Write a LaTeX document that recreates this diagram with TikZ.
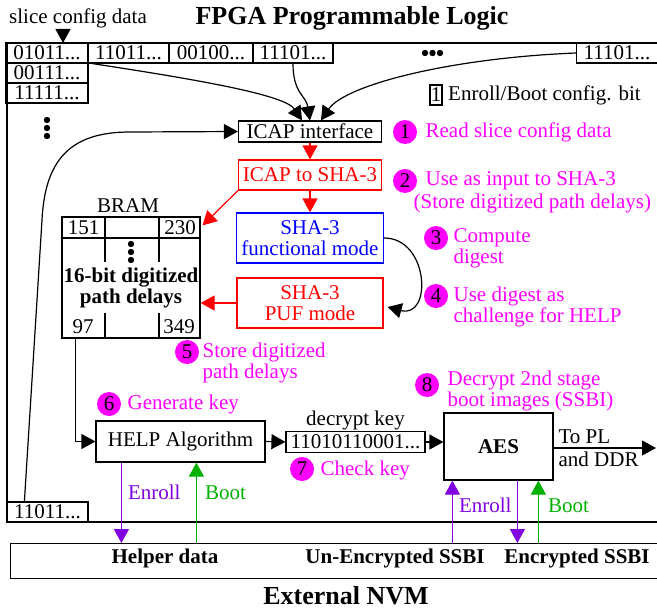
\documentclass[tikz,border=0pt]{standalone}
\usepackage{fontspec}
\setmainfont{Liberation Serif}
\usepackage{xcolor}
\usetikzlibrary{arrows.meta,positioning,calc}

\definecolor{stepmag}{RGB}{255,0,255}
\definecolor{enrollc}{RGB}{128,0,224}
\definecolor{bootc}{RGB}{0,176,0}

\begin{document}
\begin{tikzpicture}[
    x=0.5pt, y=-0.5pt,
    font=\fontsize{10.5}{10.5}\selectfont,
    line width=0.6pt,
    cell/.style={rectangle, draw, inner sep=0pt, minimum height=10pt},
    block/.style={rectangle, draw, inner sep=0pt, align=center},
    bold/.style={font=\fontsize{10.5}{10.5}\selectfont\bfseries, align=center},
    big/.style={font=\fontsize{13}{13}\selectfont\bfseries},
    stepno/.style={circle, fill=stepmag, inner sep=0pt, minimum size=12pt},
    steptxt/.style={text=stepmag, align=left, inner sep=0pt, anchor=west},
    arr/.style={-{Triangle[length=7pt, width=7.5pt]}},
    lab/.style={inner sep=0pt},
]
\useasboundingbox (0,0) rectangle (657,610);

% Titles
\node[big] (title) at (352,18) {FPGA Programmable Logic};
\node (slice) at (78,18) {slice config data};
\node[big] (nvmtitle) at (346,596) {External NVM};

% FPGA frame (runs off to the right)
\draw (700,43) -- (7,43) -- (7,522) -- (700,522);

% Slice config frames
\node[cell, minimum width=41pt] (cfgA) at (47,53) {01011...};
\node[cell, minimum width=40.5pt] (cfgB) at (128.5,53) {11011...};
\node[cell, minimum width=42pt] (cfgC) at (211,53) {00100...};
\node[cell, minimum width=40pt] (cfgD) at (293,53) {11101...};
\node[cell, anchor=west, inner xsep=3.5pt] (cfgE) at (576,53) {11101...};
\node[cell, minimum width=41pt] (cfgF) at (47,73) {00111...};
\node[cell, minimum width=41pt] (cfgG) at (47,93) {11111...};
\node[cell, minimum width=40.5pt] (cfgH) at (47.5,512) {11011...};
\foreach \x in {425,432.5,440} \fill (\x,53) circle (1.6pt);
\foreach \y in {120,128,136} \fill (47,\y) circle (1.6pt);

% Legend
\node[cell, minimum width=6pt] (legbit) at (436,95) {1};
\node[lab, right=2.5pt of legbit] (legtxt) {Enroll/Boot config. bit};

% Center column: ICAP and SHA-3
\node[block, minimum width=71.5pt, minimum height=10.5pt] (icap) at (310,131.5) {ICAP interface};
\node[block, red, minimum width=71.5pt, minimum height=15pt] (icapsha) at (310,175) {ICAP to SHA-3};
\node[block, blue, minimum width=73.5pt, minimum height=25pt] (shafun) at (310,238) {SHA-3\\functional mode};
\node[block, red, minimum width=73pt, minimum height=25pt] (shapuf) at (310,303) {SHA-3\\PUF mode};

% BRAM
\node[block, minimum width=69pt, minimum height=60.5pt] (bram) at (131,277.5) {};
\node (bramlbl) at (128,206) {BRAM};
\draw (62,238) -- (200,238);
\draw (105,217) -- (105,262) (159,217) -- (159,262)
      (105,313) -- (105,338) (159,313) -- (159,338);
\node (b151) at (83.5,228) {151};
\node (b230) at (180,228) {230};
\node (b97) at (83,327) {97};
\node (b349) at (179,327) {349};
\foreach \y in {244,252,260} \fill (131,\y) circle (1.6pt);
\node[bold] (bramtxt) at (131,287.5) {16-bit digitized\\path delays};

% Bottom row: HELP, key, AES
\node[block, minimum width=84.5pt, minimum height=20.5pt] (help) at (180.5,441.5) {HELP Algorithm};
\node[block, minimum width=69.5pt, minimum height=10.5pt] (key) at (355.5,442) {11010110001...};
\node[lab, above=0pt of key] (keylbl) {decrypt key};
\node[block, bold, minimum width=54.5pt, minimum height=33.5pt] (aes) at (498.5,446.5) {AES};
\node[lab, anchor=west] (topl) at (558,437) {To PL};
\node[lab, anchor=west] (andddr) at (558,459) {and DDR};
\coordinate (plout) at (656,448);

% External NVM strip
\node[block, anchor=north west, minimum width=350pt, minimum height=17.5pt] (nvm) at (10,543) {};
\node[bold] (helper) at (165,558) {Helper data};
\node[bold] (unenc) at (395,558) {Un-Encrypted SSBI};
\node[bold] (enc) at (577,558) {Encrypted SSBI};

% Steps
\node[stepno] (s1) at (405,132) {1};
\node[steptxt] (s1t) at (425,132) {Read slice config data};
\node[stepno] (s2) at (405,181) {2};
\node[steptxt] (s2t) at (425,181) {Use as input to SHA-3};
\node[steptxt] (s2u) at (413,203) {(Store digitized path delays)};
\node[stepno] (s3) at (436,238) {3};
\node[steptxt] (s3t) at (453,248) {Compute\\digest};
\node[stepno] (s4) at (436,296) {4};
\node[steptxt] (s4t) at (453,307) {Use digest as\\challenge for HELP};
\node[stepno] (s5) at (187,352) {5};
\node[steptxt] (s5t) at (202,363) {Store digitized\\path delays};
\node[stepno] (s6) at (109,404) {6};
\node[steptxt] (s6t) at (127,404) {Generate key};
\node[stepno] (s7) at (302,469) {7};
\node[steptxt] (s7t) at (320,470) {Check key};
\node[stepno] (s8) at (427,385) {8};
\node[steptxt] (s8t) at (447,391) {Decrypt 2nd stage\\boot images (SSBI)};

% Arrows: config read
\coordinate (slicein) at (63,43);
\draw[arr] (slice.south -| slicein) -- (slicein);
\draw[arr] ([xshift=2.5pt]cfgB.south west) .. controls (200,80) and (285,95) .. ([xshift=-4pt]icap.north);
\draw[arr] (cfgD.south) .. controls +(0,30) and +(-4,-25) .. (icap.north);
\draw[arr] (cfgE.west) .. controls (450,58) and (345,85) .. ([xshift=5.5pt]icap.north);
\draw[arr] ([xshift=9pt]cfgH.north west) -- (42,220) .. controls (45,160) and (70,132) .. (130,132) -- (icap.west);

% Arrows: SHA-3 flow
\draw[arr, red] (icap) -- (icapsha);
\draw[arr, red] (icapsha) -- (shafun);
\draw[arr, red] (icapsha.south west) -- ([xshift=1pt, yshift=-4.5pt]bram.north east);
\draw[arr, red] (shapuf.west) -- (shapuf.west -| bram.east);
\draw[arr] (shafun.east) .. controls +(45,0) and +(45,12) .. ([xshift=2pt, yshift=-2pt]shapuf.east);

% Arrows: key generation and decryption
\draw[arr] ([xshift=7pt]bram.south west) |- (help.west);
\draw[arr] (help.east) -- (key.west);
\draw[arr] (key.east) -- (key.east -| aes.west);
\draw[arr] (aes.east |- plout) -- (plout);

% Enroll / Boot paths
\coordinate (hen) at ([xshift=13pt]help.south west);
\coordinate (hbt) at ([xshift=50.5pt]help.south west);
\coordinate (aen) at ([xshift=4.5pt]aes.south west);
\coordinate (aout) at ([xshift=37pt]aes.south west);
\coordinate (abt) at ([xshift=47.5pt]aes.south west);
\draw[arr, enrollc] (hen) -- (hen |- nvm.north) node[lab, right=3pt, pos=0.37] {Enroll};
\draw[arr, bootc] (hbt |- nvm.north) -- (hbt) node[lab, right=4pt, pos=0.63] {Boot};
\draw[arr, enrollc] (aen |- nvm.north) -- (aen) node[lab, right=3pt, pos=0.6] {Enroll};
\draw[arr, enrollc] (aout) -- (aout |- nvm.north);
\draw[arr, bootc] (abt |- nvm.north) -- (abt) node[lab, right=4.5pt, pos=0.6] {Boot};

\end{tikzpicture}
\end{document}
